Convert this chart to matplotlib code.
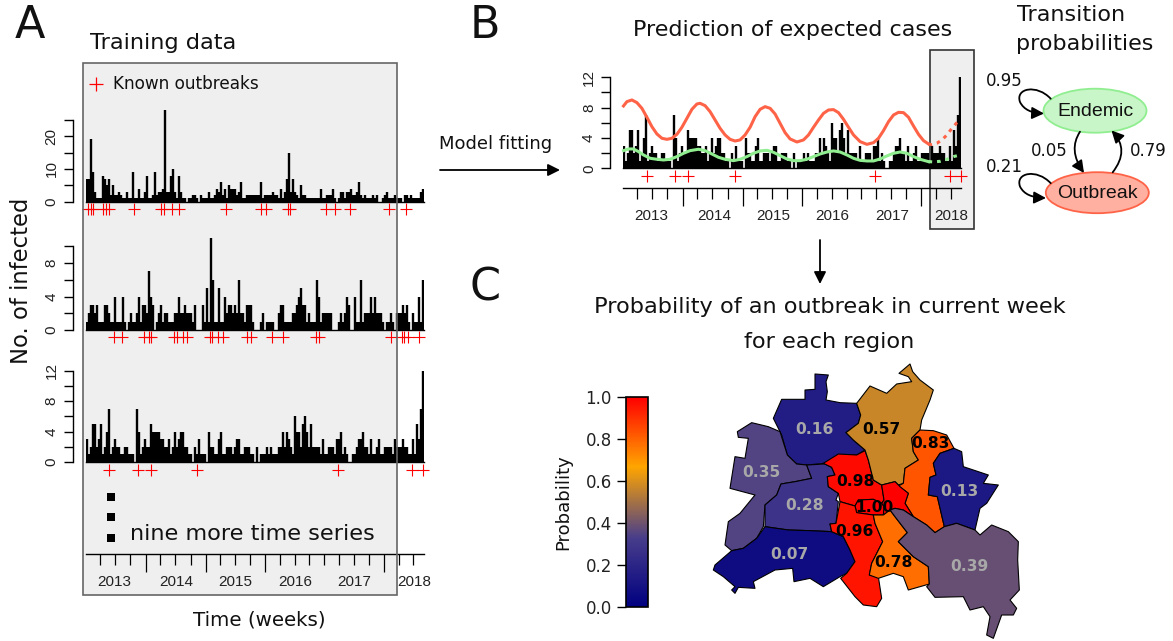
import matplotlib
matplotlib.use("Agg")
import matplotlib.pyplot as plt
from matplotlib.colors import LinearSegmentedColormap
from matplotlib.cm import ScalarMappable
from matplotlib.patches import Rectangle, Ellipse, Polygon, FancyArrowPatch
from matplotlib.path import Path
from matplotlib.transforms import blended_transform_factory

W, H = 1173, 641

# weekly counts for the three example regions
series1 = [7,7,19,9,3,1,1,1,8,7,5,7,2,5,2,2,3,2,1,1,3,1,1,9,1,1,4,1,1,3,8,1,1,2,9,2,3,3,4,28,3,3,8,10,3,1,8,3,1,1,0,1,1,2,2,1,0,2,1,1,1,3,1,1,2,4,3,6,2,4,1,5,4,4,4,2,3,6,1,1,2,2,2,2,2,2,2,6,1,2,2,2,2,3,2,2,1,4,1,3,7,15,3,7,3,2,1,5,2,2,1,1,1,1,1,1,1,4,1,1,2,2,2,4,1,0,1,3,3,1,3,3,4,2,2,3,6,2,1,2,1,1,1,2,1,2,0,0,1,2,3,1,1,1,2,1,1,1,0,2,2,1,2,1,1,1,1,3,4]
series2 = [1,2,3,3,2,3,1,1,1,3,3,2,1,1,4,1,1,1,4,1,0,1,2,1,1,2,4,1,3,3,2,7,4,3,0,1,2,3,1,2,2,1,1,1,2,2,4,2,2,3,2,2,2,1,3,0,0,0,3,1,5,1,11,6,1,1,5,1,1,4,2,3,3,2,3,2,6,2,2,1,3,3,3,1,0,0,0,1,2,0,1,1,1,1,0,0,2,3,3,1,1,1,1,2,2,3,4,5,3,3,1,2,1,1,1,6,4,1,2,2,2,2,2,0,0,0,1,2,1,2,4,3,0,0,4,1,1,6,1,2,2,2,4,2,4,2,2,2,1,0,1,1,2,1,0,2,2,2,3,2,3,1,0,2,1,1,4,1,6]
series3 = [3,1,2,5,5,2,3,5,1,2,4,7,1,2,3,2,2,1,1,2,2,1,1,1,0,7,4,1,2,3,2,2,5,4,4,4,4,3,3,2,2,3,1,2,4,2,3,4,4,2,2,1,1,0,2,1,3,1,1,1,0,4,2,2,1,1,3,4,1,1,2,2,2,1,2,3,3,1,1,2,2,2,1,1,0,2,0,1,1,1,2,1,2,1,1,1,2,2,4,2,4,3,2,1,6,4,4,2,5,6,4,2,5,2,2,2,2,1,3,1,1,2,2,2,1,3,3,4,1,2,1,0,0,1,1,2,3,3,4,2,2,1,3,1,1,2,3,1,1,2,2,2,2,1,3,2,2,2,3,2,2,1,1,3,1,5,3,7,12]

outbreaks1 = [1.2,2.3,3.3,8.7,10,11.3,24,37.7,39,43,46.7,69.8,87.3,89.8,101.2,102,120,124.3,132,151.5,159.8]
outbreaks2 = [14,17.8,29,31.5,32.3,44,45.7,48.3,50.3,62,63,66.2,68.7,80.7,82.3,92.8,98.3,114.8,116.5,152.3,157.8,159,161.2,166.7]
outbreaks3 = [11.6,25.8,32.4,55.6,126,163.2,168.6]

# time axis
short_ticks = [7,14.5,22,37,44.5,52.3,67,74.5,82,97,104.3,111.7,119,126.5,134,141.3,156.3,163.7]
long_ticks = [30,59.8,89.5,148.8]
years = ["2013","2014","2015","2016","2017","2018"]
year_pos = [14,45.2,74.8,104.5,134.3,164]

# fitted curves of panel B
red_week = [0,1.7,4.2,6.7,9.2,11.7,14.2,16.7,19.2,21.7,24.2,26.7,29.2,31.7,34.2,36.7,38.3,40.8,43.3,45.8,48.3,50.8,53.3,55.8,58.3,60.8,63.3,65.8,68.3,70.8,73.3,75.8,78.3,80.8,83.3,86.7,90,92.5,95,97.5,100,102.5,105,107.5,110,112.5,115,118.3,121.7,125,127.5,130,132.5,135,137.5,140,142.5,145,147.5,150,152.5]
red_fit = [8.22,8.79,9.01,8.66,7.91,6.73,5.49,4.53,3.96,3.82,3.96,4.48,5.41,6.59,7.78,8.48,8.57,8.26,7.47,6.37,5.27,4.40,3.82,3.60,3.74,4.40,5.41,6.81,7.78,8.13,7.91,7.16,5.93,4.70,3.87,3.47,3.74,4.40,5.41,6.37,7.25,7.69,7.74,7.34,6.46,5.41,4.40,3.52,3.16,3.38,3.96,4.97,6.15,7.03,7.38,7.34,6.73,5.58,4.48,3.65,3.21]
red_pred_week = [152.5,154.2,156.7,159.2,161.7,164.2,166.7,168.7]
red_pred = [3.21,3.12,3.30,3.74,4.40,5.27,6.02,6.37]
green_week = [0,2.5,5,7.5,10,13.3,16.7,20,23.3,26.7,30,33.3,37.5,40.8,44.2,47.5,50.8,55,58.3,61.7,65,68.3,71.7,75,78.3,81.7,85,88.3,91.7,95,98.3,101.7,105,108.3,111.7,115,118.3,121.7,125,128.3,131.7,135,138.3,141.7,145,148.3,152.5]
green_fit = [2.33,2.55,2.55,2.20,1.76,1.32,1.19,1.10,1.19,1.54,1.98,2.33,2.51,2.33,1.89,1.45,1.19,1.01,1.19,1.54,1.98,2.29,2.37,2.11,1.67,1.23,1.01,1.01,1.19,1.54,1.89,2.15,2.29,2.15,1.76,1.32,1.05,0.97,0.97,1.23,1.63,1.98,2.15,1.98,1.54,1.19,0.88]
green_pred_week = [152.5,155,158.3,161.7,165,168.7]
green_pred = [0.88,0.84,0.92,1.19,1.54,1.80]

# map of the regions, outlines in map units
region_values = {"reinickendorf":0.16,"spandau":0.35,"charlottenburg":0.28,"steglitz":0.07,"mitte":0.98,"pankow":0.57,
                 "lichtenberg":0.83,"marzahn":0.13,"east_part":1.00,"center":1.00,"tempelhof":0.96,"neukoelln":0.78,"treptow":0.39}
reinickendorf = [(345,42),(385,45),(378,65),(382,95),(378,120),(420,128),(470,130),(482,165),(475,190),(438,218),(460,240),(495,270),(470,285),(420,285),(375,310),(320,315),(290,312),(262,285),(245,225),(220,175),(245,118),(315,118),(315,90),(345,88)]
spandau = [(155,188),(205,200),(240,215),(262,285),(290,312),(320,315),(335,355),(285,365),(243,372),(230,405),(195,435),(190,500),(170,535),(130,565),(95,572),(75,555),(85,485),(120,460),(165,405),(90,385),(105,290),(135,295),(145,235),(115,232),(112,215)]
charlottenburg = [(320,315),(375,312),(395,322),(405,345),(382,350),(385,380),(415,400),(408,420),(415,425),(408,490),(390,492),(395,515),(330,512),(265,510),(195,500),(195,435),(230,405),(243,372),(285,365),(335,355)]
steglitz = [(195,500),(265,510),(330,512),(395,515),(430,530),(450,570),(465,605),(440,640),(420,650),(370,680),(330,655),(282,665),(278,625),(225,630),(160,665),(165,685),(115,682),(105,700),(95,690),(105,680),(70,650),(40,630),(45,615),(95,572),(130,565),(170,535)]
mitte = [(370,310),(415,282),(470,285),(495,272),(505,300),(520,360),(545,375),(552,420),(545,430),(520,418),(475,420),(465,438),(420,425),(415,400),(385,380),(382,350),(405,345),(395,322)]
pankow = [(470,130),(510,78),(560,100),(590,72),(635,65),(625,50),(597,40),(630,12),(638,35),(660,60),(700,90),(690,120),(665,180),(660,210),(635,235),(640,275),(655,300),(615,325),(610,370),(595,375),(585,365),(545,375),(520,360),(505,300),(495,270),(460,240),(438,218),(475,190),(482,165)]
lichtenberg = [(660,210),(700,212),(740,225),(762,265),(720,280),(700,310),(708,345),(690,352),(685,405),(712,410),(733,500),(705,518),(680,495),(640,470),(615,430),(625,400),(595,378),(610,370),(615,325),(655,300),(640,275),(635,235)]
marzahn = [(762,265),(785,275),(790,320),(865,345),(850,370),(895,375),(860,430),(840,445),(825,510),(770,490),(733,500),(712,410),(685,405),(690,352),(708,345),(700,310),(720,280)]
east_part = [(545,375),(585,365),(600,380),(625,400),(615,430),(640,470),(610,450),(585,445),(570,450),(552,465),(545,430),(552,420)]
center = [(465,438),(475,420),(520,418),(545,430),(552,440),(550,465),(520,465),(470,458)]
tempelhof = [(420,425),(465,438),(470,458),(520,465),(525,490),(548,545),(515,610),(508,645),(535,650),(545,715),(530,740),(490,735),(465,710),(422,655),(440,640),(465,605),(450,570),(430,530),(395,515),(390,492),(408,490)]
neukoelln = [(520,465),(550,465),(570,450),(585,470),(622,518),(595,545),(640,590),(685,620),(688,672),(625,690),(610,650),(580,640),(535,655),(508,645),(515,610),(548,545),(525,490)]
treptow = [(570,450),(585,445),(610,450),(640,470),(680,495),(705,518),(733,500),(770,490),(825,510),(840,525),(875,495),(925,515),(955,545),(953,600),(958,690),(930,720),(950,745),(940,765),(905,765),(880,835),(860,825),(870,770),(850,740),(810,750),(790,710),(705,712),(680,680),(688,672),(685,620),(640,590),(595,545),(622,518),(585,470)]
outlines = {"reinickendorf":reinickendorf,"spandau":spandau,"charlottenburg":charlottenburg,"steglitz":steglitz,"mitte":mitte,"pankow":pankow,
            "lichtenberg":lichtenberg,"marzahn":marzahn,"east_part":east_part,"center":center,"tempelhof":tempelhof,"neukoelln":neukoelln,"treptow":treptow}
label_regions = ["reinickendorf","pankow","lichtenberg","spandau","mitte","charlottenburg","center","marzahn","tempelhof","steglitz","neukoelln","treptow"]
label_xy = [(343,207),(543,207),(692,252),(184,338),(465,365),(313,437),(523,443),(778,395),(464,515),(268,584),(581,607),(808,620)]

n_weeks = len(series3)

plt.rcParams['font.family'] = 'DejaVu Sans'
fig = plt.figure(figsize=(W/100, H/100), dpi=100)


def px_axes(x0, x1, ytop, ybot, **kw):
    return fig.add_axes([x0/W, 1-ybot/H, (x1-x0)/W, (ybot-ytop)/H], **kw)


back = px_axes(0, W, 0, H, zorder=0)
back.set_xlim(0, W); back.set_ylim(H, 0); back.axis('off')
front = px_axes(0, W, 0, H, zorder=5)
front.set_xlim(0, W); front.set_ylim(H, 0); front.axis('off')

back.add_patch(Rectangle((82.5, 63), 314.5, 532, fc='#efefef', ec='none'))
back.add_patch(Rectangle((930, 49.5), 43.5, 179, fc='#efefef', ec='#333333', lw=1.2))
front.add_patch(Rectangle((82.5, 63), 314.5, 532, fc='none', ec='#666666', lw=1.2))


def draw_series(x0, x1, y0, ytop, ymax, values, outbreaks, cross_y, ticks, labels, lw=1.7):
    ax = px_axes(x0, x1, ytop, y0, zorder=2)
    ax.patch.set_visible(False)
    ax.set_xlim(0, n_weeks)
    ax.set_ylim(0, ymax)
    ax.vlines([i+0.5 for i in range(len(values))], 0, values, color='black', lw=lw, capstyle='butt')
    ax.axhline(0, color='black', lw=1.0, clip_on=False)
    tr = blended_transform_factory(ax.transData, back.transData)
    ax.plot(outbreaks, [cross_y]*len(outbreaks), '+', color='red', ms=8, mew=0.8, transform=tr, clip_on=False)
    for s in ['top', 'right', 'bottom']:
        ax.spines[s].set_visible(False)
    ax.spines['left'].set_position(('outward', 13*0.72))
    ax.spines['left'].set_bounds(0, ticks[-1])
    ax.spines['left'].set_linewidth(1.0)
    ax.set_xticks([])
    ax.set_yticks(ticks)
    ax.set_yticklabels(labels, rotation=90, va='center', family='Liberation Sans', fontsize=11)
    ax.tick_params(axis='y', length=6.5, width=1.0, pad=4, color='black', labelcolor='#222222')
    return ax


def draw_time_axis(ax, y0, axis_y, label_y):
    ax.spines['bottom'].set_visible(True)
    ax.spines['bottom'].set_position(('outward', (axis_y-y0)*0.72))
    ax.spines['bottom'].set_linewidth(1.0)
    ax.set_xticks(short_ticks)
    ax.set_xticks(long_ticks, minor=True)
    ax.set_xticklabels([])
    ax.tick_params(axis='x', which='major', length=8, width=0.9)
    ax.tick_params(axis='x', which='minor', length=13, width=0.9)
    tr = blended_transform_factory(ax.transData, back.transData)
    for pos, year in zip(year_pos, years):
        ax.text(pos, label_y, year, transform=tr, ha='center', va='center', family='Liberation Sans',
                fontsize=11, color='#222222', clip_on=False)


# panel A
draw_series(86, 424, 201.7, 110, 28, series1, outbreaks1, 209.3, [0,5,10,15,20,25], ['0','','10','','20',''])
draw_series(86, 424, 330, 238, 11, series2, outbreaks2, 337, [0,2,4,6,8,10], ['0','','4','','8',''])
ax3 = draw_series(86, 424, 462, 370.7, 12, series3, outbreaks3, 470, [0,2,4,6,8,10,12], ['0','','4','','8','','12'])
draw_time_axis(ax3, 462, 554, 582)

# panel B
axb = draw_series(623.5, 961.5, 168.3, 77.3, 12, series3, outbreaks3, 176, [0,2,4,6,8,10,12], ['0','','4','','8','','12'])
axb.plot(red_week, red_fit, color='#FF6347', lw=2.2, solid_joinstyle='round', clip_on=False)
axb.plot(red_pred_week, red_pred, color='#FF6347', lw=2.2, ls=(0, (1.2, 1.6)), clip_on=False)
axb.plot(green_week, green_fit, color='#90EE90', lw=2.2, solid_joinstyle='round', clip_on=False)
axb.plot(green_pred_week, green_pred, color='#90EE90', lw=2.2, ls=(0, (1.2, 1.6)), clip_on=False)
draw_time_axis(axb, 168.3, 187.7, 216)

# texts
dark = '#111111'
for x, y, s in [(15, 25, 'A'), (470, 25, 'B'), (470, 288, 'C')]:
    front.text(x, y, s, fontsize=32, va='center', ha='left', color=dark)
front.text(90, 43, 'Training data', fontsize=16.2, va='center', color=dark)
front.text(113, 84, 'Known outbreaks', fontsize=12.2, va='center', color=dark)
front.plot([96], [84], '+', color='red', ms=10.5, mew=0.9)
front.text(130, 534, 'nine more time series', fontsize=16.1, va='center', color=dark)
front.plot([111, 111, 111], [496.7, 517.3, 537.7], 's', color='black', ms=5.7, mew=0)
front.text(22, 281, 'No. of infected', fontsize=16.3, rotation=90, va='center', ha='center', color=dark)
front.text(259, 620, 'Time (weeks)', fontsize=14.3, va='center', ha='center', color=dark)
front.text(439, 144, 'Model fitting', fontsize=13, va='center', color=dark)
front.text(633, 30, 'Prediction of expected cases', fontsize=16, va='center', color=dark)
front.text(1017, 15, 'Transition', fontsize=16, va='center', color=dark)
front.text(1016, 44, 'probabilities', fontsize=16, va='center', color=dark)
front.text(830, 307, 'Probability of an outbreak in current week', fontsize=16.2, va='center', ha='center', color=dark)
front.text(829, 342, 'for each region', fontsize=16.2, va='center', ha='center', color=dark)

# arrows between panels
front.add_patch(FancyArrowPatch((440, 170), (560, 170), arrowstyle='-|>', mutation_scale=18, lw=1.3, color='black', shrinkA=0, shrinkB=0))
front.add_patch(FancyArrowPatch((820, 240), (820, 284), arrowstyle='-|>', mutation_scale=18, lw=1.3, color='black', shrinkA=0, shrinkB=0))

# transition graph
front.add_patch(Ellipse((1095, 110.7), 103, 44, fc='#c8f6c8', ec='#90EE90', lw=1.3))
front.add_patch(Ellipse((1097.3, 192.7), 103, 41, fc='#ffb0a0', ec='#FF6347', lw=1.3))
front.text(1095, 111, 'Endemic', family='Liberation Sans', fontsize=14, ha='center', va='center', color=dark)
front.text(1097, 193, 'Outbreak', family='Liberation Sans', fontsize=14, ha='center', va='center', color=dark)
for x, y, s in [(1004, 81, '0.95'), (1049, 151, '0.05'), (1148, 151, '0.79'), (1004, 167, '0.21')]:
    front.text(x, y, s, fontsize=12, ha='center', va='center', color=dark)
for dy, x_end in [(0, 1044), (84.5, 1046)]:
    verts = [(1050.7, 98.7+dy), (1037, 84+dy), (1015, 88+dy), (1020, 102+dy), (1024, 110+dy), (1032, 113+dy), (x_end, 113.5+dy)]
    codes = [Path.MOVETO] + [Path.CURVE4]*6
    front.add_patch(FancyArrowPatch(path=Path(verts, codes), arrowstyle='-|>', mutation_scale=18, lw=1.3, color='black'))
front.add_patch(FancyArrowPatch(path=Path([(1080, 131.7), (1068, 150), (1084, 173)], [Path.MOVETO, Path.CURVE3, Path.CURVE3]),
                                arrowstyle='-|>', mutation_scale=18, lw=1.3, color='black'))
front.add_patch(FancyArrowPatch(path=Path([(1112.7, 172.3), (1130, 150), (1111.5, 130.5)], [Path.MOVETO, Path.CURVE3, Path.CURVE3]),
                                arrowstyle='-|>', mutation_scale=18, lw=1.3, color='black'))

# map
prob_cmap = LinearSegmentedColormap.from_list('prob', [(0, '#000080'), (0.33, '#483D8B'), (0.67, '#FFA500'), (1, '#FF0000')])
axm = px_axes(700, 1020, 360, 641, zorder=3)
axm.set_xlim(0, 960); axm.set_ylim(843, 0); axm.axis('off')
for name, outline in outlines.items():
    axm.add_patch(Polygon(outline, closed=True, fc=prob_cmap(region_values[name]), ec='black', lw=0.8, joinstyle='round', clip_on=False))
for name, (x, y) in zip(label_regions, label_xy):
    v = region_values[name]
    axm.text(x, y, f'{v:.2f}', fontsize=11.2, fontweight='bold', ha='center', va='center',
             color='black' if v > 0.5 else '#a8a8a8')

# colour bar
cax = px_axes(626, 648.3, 397.3, 607.3, zorder=3)
cb = fig.colorbar(ScalarMappable(cmap=prob_cmap), cax=cax, ticklocation='left')
cb.set_ticks([0, 0.2, 0.4, 0.6, 0.8, 1.0])
cb.ax.tick_params(length=6.2, width=1.0, pad=4, labelsize=12, labelcolor='#222222')
cb.outline.set_linewidth(1.2)
front.text(563, 501.7, 'Probability', fontsize=13, rotation=90, va='center', ha='center', color=dark)

fig.savefig('out.png', dpi=100)
